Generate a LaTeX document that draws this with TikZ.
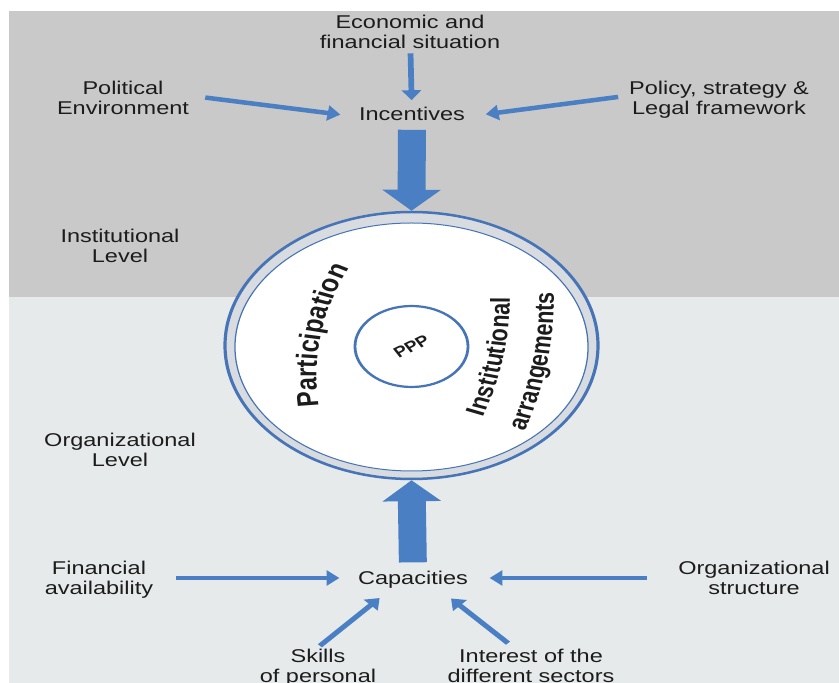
\documentclass[tikz,border=0pt]{standalone}
\usepackage{fontspec}
\setmainfont{Liberation Sans}
\usepackage{xcolor}
\usetikzlibrary{arrows.meta, shapes.geometric, decorations.text, calc}

\definecolor{topgray}{RGB}{201,201,201}
\definecolor{lowgray}{RGB}{231,234,235}
\definecolor{flowblue}{RGB}{74,127,196}
\definecolor{ringblue}{RGB}{70,116,183}
\definecolor{bandgray}{RGB}{216,220,225}
\definecolor{inkgray}{RGB}{28,28,28}

\begin{document}
\begin{tikzpicture}[
    lbl/.style={inner sep=0pt, outer sep=0pt, align=center, text=inkgray, font=\fontsize{18.5}{20}\selectfont},
    feed/.style={-{Triangle[width=15pt, length=10pt]}, line width=4.5pt, draw=flowblue},
    bigarrow/.style={-{Triangle[width=45pt, length=21pt]}, line width=22pt, draw=flowblue},
    ringout/.style={ellipse, draw=ringblue, line width=2.5pt, fill=bandgray, minimum width=293.7pt, minimum height=267pt, inner sep=0pt},
    ringin/.style={ellipse, draw=ringblue, line width=1pt, fill=white, minimum width=278pt, minimum height=248pt, inner sep=0pt},
    core/.style={ellipse, draw=ringblue, line width=2.2pt, fill=white, minimum width=89pt, minimum height=81pt, inner sep=0pt, text=inkgray, font=\fontsize{15}{15}\bfseries\selectfont},
    arctext/.style={decorate, decoration={text along path, text align=center, text color=inkgray}}
]
    \useasboundingbox (0pt,0pt) rectangle (839pt,683pt);
    % two level bands
    \fill[lowgray] (9pt,0pt) rectangle (839pt,386pt);
    \fill[topgray] (9pt,386pt) rectangle (839pt,672pt);

    \begin{scope}[x=0.7874pt, y=1pt, transform canvas={xscale=1.27}]
    \node[lbl] (econ) at (410,651.5) {Economic and\\financial situation};
    \node[lbl] (polit) at (123,585.5) {Political\\Environment};
    \node[lbl] (policy) at (719,583.5) {Policy, strategy \&\\Legal framework};
    \node[lbl] (incent) at (412,569) {Incentives};
    \node[lbl] (instlvl) at (120,437) {Institutional\\Level};
    \node[lbl] (orglvl) at (120,233) {Organizational\\Level};
    \node[lbl] (capac) at (413,103) {Capacities};
    \node[lbl] (finance) at (99,103) {Financial\\availability};
    \node[lbl] (orgstruct) at (754,105) {Organizational\\structure};
    \node[lbl] (skills) at (318,15) {Skills\\of personal};
    \node[lbl] (interest) at (531,17) {Interest of the\\different sectors};

    % the ring with PPP in its middle
    \node[ringout] (ring) at (411.5,337.5) {};
    \node[ringin] (ringin) at (411.5,336) {};
    \node[core] (ppp) at (411.5,336.5) {\rotatebox{32}{PPP}};

    \path[arctext, decoration={text={|\fontsize{23.5}{23.5}\bfseries\selectfont|Participation}}]
        ($(506.5,307)+(197:190)$) arc[start angle=197, end angle=137, radius=190];
    \path[arctext, decoration={text={|\fontsize{21.5}{21.5}\bfseries\selectfont|Institutional}}]
        ($(235.8,384.7)+(-33:274)$) arc[start angle=-33, end angle=7, radius=274];
    \path[arctext, decoration={text={|\fontsize{21.5}{21.5}\bfseries\selectfont|arrangements}}]
        ($(235.8,384.7)+(-32:318)$) arc[start angle=-32, end angle=8, radius=318];

    \draw[feed, shorten <=5pt, shorten >=7pt] (econ) -- (incent);
    \draw[feed, shorten <=13pt, shorten >=15pt] ([yshift=2pt]polit.east) -- ([yshift=-3pt]incent.west);
    \draw[feed, shorten <=8.8pt, shorten >=16.7pt] ([yshift=4pt]policy.west) -- ([yshift=-3pt]incent.east);
    \draw[feed, shorten <=18pt, shorten >=14.8pt] ([yshift=2pt]finance.east) -- ([yshift=2pt]capac.west);
    \draw[feed, shorten <=24.6pt, shorten >=17.2pt] (orgstruct.west) -- ([yshift=2pt]capac.east);
    \draw[feed, shorten <=5pt, shorten >=9pt] ([xshift=-2pt]skills.north) -- ([xshift=-20pt,yshift=-3pt]capac.south);
    \draw[feed, shorten <=8.6pt, shorten >=14pt] ([xshift=-12pt]interest.north) -- ([xshift=20pt]capac.south);

    \draw[bigarrow, shorten <=9pt] (incent.south) -- (ring.north);
    \draw[bigarrow, shorten <=9pt] (capac.north) -- (ring.south);
    \end{scope}
\end{tikzpicture}
\end{document}
